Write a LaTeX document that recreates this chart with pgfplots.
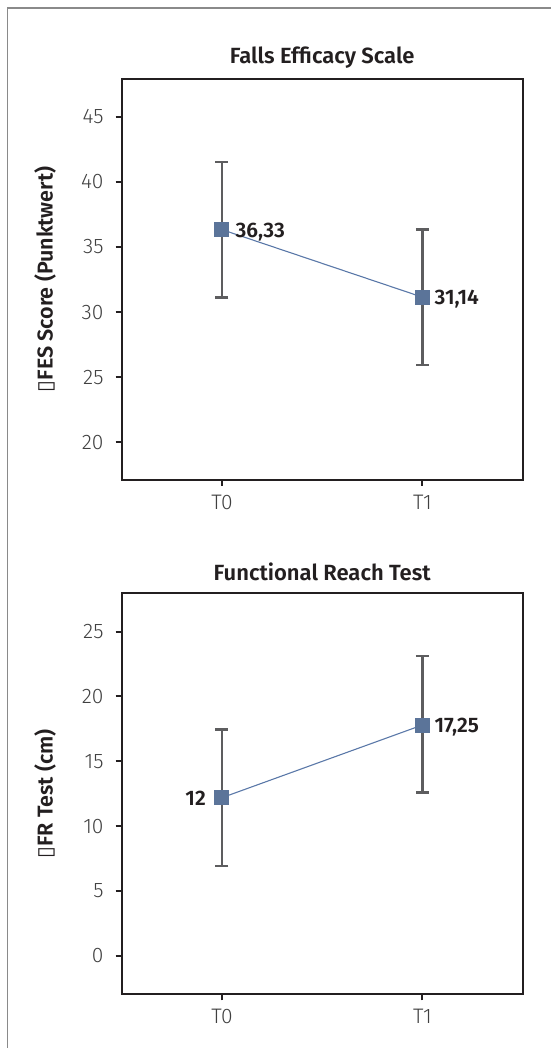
\documentclass[border=0pt]{standalone}
\usepackage{fontspec}
\setmainfont{Fira Sans}[UprightFont=* Light, BoldFont=* SemiBold]
\newfontfamily\dejavu{DejaVu Sans}
\usepackage{pgfplots}
\pgfplotsset{compat=1.18}
\definecolor{axc}{HTML}{231F20}
\definecolor{errc}{HTML}{5D5D5F}
\definecolor{mkc}{HTML}{5B7499}
\definecolor{lnc}{HTML}{5A78A8}
\definecolor{tkc}{HTML}{404040}
\definecolor{frc}{HTML}{8A8A8A}
\tikzset{vlab/.style={font=\bfseries\fontsize{21bp}{24bp}\selectfont, text=axc, inner sep=0pt}}
\pgfplotsset{
  panel/.style={
    scale only axis, width=401bp, height=401bp, anchor=south west,
    axis line style={draw=axc, line width=2.4bp},
    xmin=-0.5, xmax=1.5, xtick={0,1}, xticklabels={T0,T1},
    tick align=outside, major tick length=6bp,
    major tick style={draw=axc, line width=2bp},
    xtick pos=bottom, ytick pos=left,
    /pgf/number format/assume math mode=true,
    ticklabel style={font=\fontsize{21bp}{24bp}\selectfont, text=tkc, inner sep=0pt},
    yticklabel style={anchor=east},
    xticklabel style={anchor=north},
    yticklabel shift=12bp,
    xticklabel shift=9bp,
    title style={font=\bfseries\fontsize{22bp}{26bp}\selectfont, text=axc, anchor=base, at={(0.5,1)}},
    ylabel style={font=\bfseries\fontsize{21.5bp}{24bp}\selectfont, text=axc, at={(axis description cs:-0.191,0.5)}, anchor=center},
    clip=false,
  },
  ebar/.style={forget plot, draw=none, mark=none,
    error bars/.cd, y dir=both, y explicit,
    error bar style={draw=errc, line width=2.5bp},
    error mark options={draw=errc, line width=2.5bp, mark size=6.5bp, rotate=90}},
  mline/.style={draw=lnc, line width=1.1bp, mark=square*, mark size=7bp,
    mark options={fill=mkc, draw=mkc, line width=0pt}},
}
\begin{document}
\begin{tikzpicture}[x=1bp,y=1bp]
\useasboundingbox (0,0) rectangle (551,1048);
\draw[frc, line width=1.4bp] (7.7,0) -- (7.7,1040) -- (551,1040);
% Top panel
\begin{axis}[panel, at={(121.7bp,568bp)},
  ymin=17.1, ymax=47.9, ytick={20,25,30,35,40,45},
  title={Falls Efficacy Scale}, title style={yshift=10bp},
  ylabel={{\dejavu\mdseries ▯}FES Score (Punktwert)}]
\addplot[ebar] coordinates {(0,36.33) +- (0,5.2) (1,31.14) +- (0,5.2)};
\addplot[mline] coordinates {(0,36.33) (1,31.14)};
\node[vlab, anchor=base west] at (axis cs:0,36.33) [xshift=13.5bp, yshift=-7.5bp] {36,33};
\node[vlab, anchor=base west] at (axis cs:1,31.14) [xshift=12bp, yshift=-7.5bp] {31,14};
\end{axis}
% Bottom panel
\begin{axis}[panel, at={(121.7bp,53.7bp)},
  ymin=-2.95, ymax=27.95, ytick={0,5,10,15,20,25},
  title={Functional Reach Test}, title style={yshift=7bp},
  ylabel={{\dejavu\mdseries ▯}FR Test (cm)}]
\addplot[ebar] coordinates {(0,12.2) +- (0,5.25) (1,17.85) +- (0,5.25)};
\addplot[mline] coordinates {(0,12.2) (1,17.8)};
\node[vlab, anchor=base east] at (axis cs:0,12.2) [xshift=-16bp, yshift=-7.5bp] {12};
\node[vlab, anchor=base west] at (axis cs:1,17.8) [xshift=12bp, yshift=-7.5bp] {17,25};
\end{axis}
\end{tikzpicture}
\end{document}
